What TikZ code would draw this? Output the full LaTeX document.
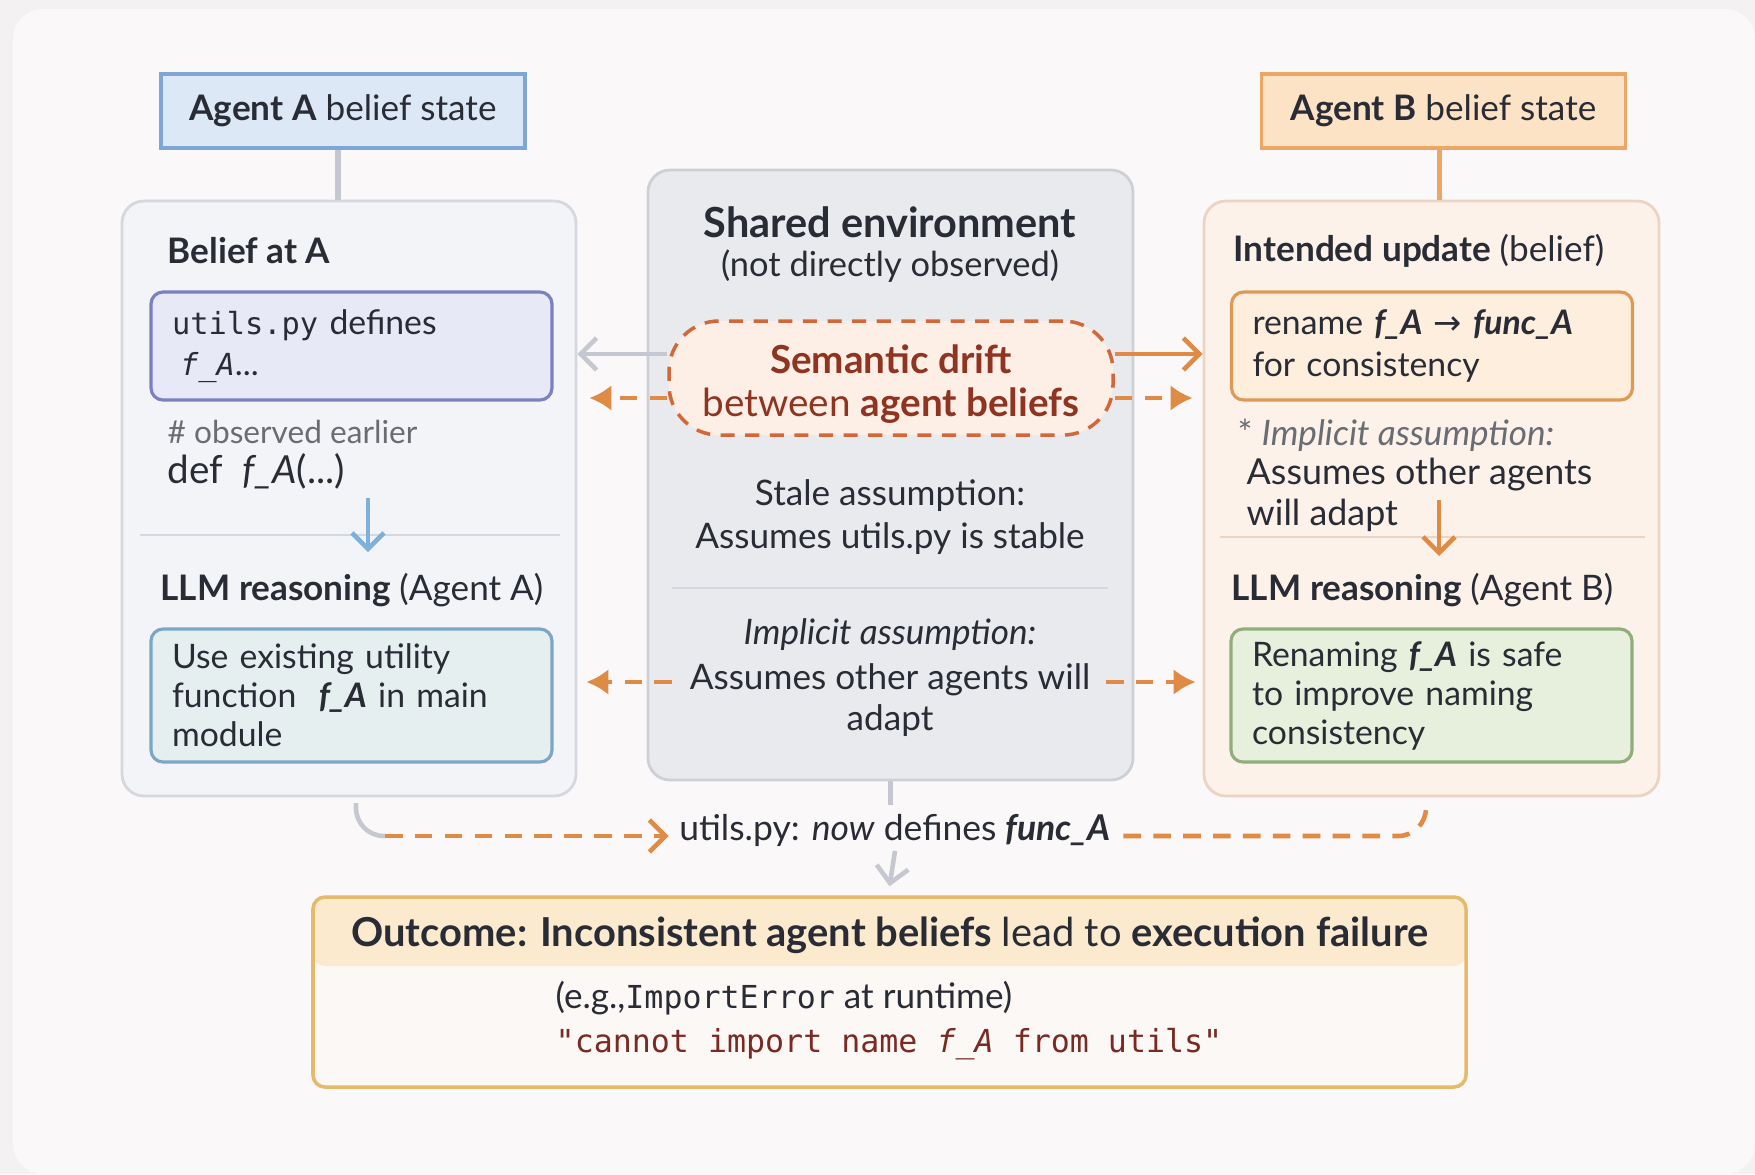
\documentclass[tikz,border=0pt]{standalone}
\usepackage{fontspec}
\setmainfont{Lato}
\setmonofont{DejaVu Sans Mono}[Scale=0.9]
\newfontfamily\arrowfont{DejaVu Sans}
\usetikzlibrary{positioning,arrows.meta,calc}

\definecolor{ink}{HTML}{2A2C35}
\definecolor{notegray}{HTML}{6A6C74}
\definecolor{bgout}{HTML}{F3F1F1}
\definecolor{bgin}{HTML}{FAF8F8}
\definecolor{bluefill}{HTML}{DCE8F5}
\definecolor{blueline}{HTML}{7EA6D8}
\definecolor{orfill}{HTML}{FCE3C6}
\definecolor{orline}{HTML}{ECA766}
\definecolor{panAfill}{HTML}{F3F4F8}
\definecolor{panAline}{HTML}{D5D8DF}
\definecolor{envfill}{HTML}{E9EAEE}
\definecolor{envline}{HTML}{CDD0D6}
\definecolor{panBfill}{HTML}{FCF2EA}
\definecolor{panBline}{HTML}{EDD3C3}
\definecolor{lavfill}{HTML}{E8E9F7}
\definecolor{lavline}{HTML}{7A80C0}
\definecolor{usefill}{HTML}{E5EFF0}
\definecolor{useline}{HTML}{7CA6C6}
\definecolor{renfill}{HTML}{FDEEDD}
\definecolor{renline}{HTML}{DE9A55}
\definecolor{grnfill}{HTML}{E7EFDD}
\definecolor{grnline}{HTML}{90AE7C}
\definecolor{driftfill}{HTML}{FDEFE6}
\definecolor{driftline}{HTML}{D2683A}
\definecolor{driftink}{HTML}{8E3420}
\definecolor{orarrow}{HTML}{DF8A45}
\definecolor{grayarrow}{HTML}{C5C8D0}
\definecolor{bluearrow}{HTML}{7DB0DA}
\definecolor{outfill}{HTML}{FCF8F5}
\definecolor{outhead}{HTML}{FBEACD}
\definecolor{outline}{HTML}{E5BA6D}
\definecolor{errink}{HTML}{7A2A22}

\tikzset{
  base/.style={inner sep=0pt, font=\fontsize{10}{12}\selectfont, text=ink},
  title/.style={base, font=\bfseries\fontsize{10}{12}\selectfont},
  txt/.style={base},
  note/.style={base, text=notegray},
  hdrA/.style={draw=blueline, fill=bluefill, line width=1pt, minimum width=3.64cm,
    minimum height=0.74cm, font=\fontsize{10}{12}\selectfont, text=ink},
  hdrB/.style={hdrA, draw=orline, fill=orfill},
  panel/.style={draw, rounded corners=0.22cm, line width=0.8pt, minimum width=4.54cm,
    minimum height=5.95cm},
  panelA/.style={panel, draw=panAline, fill=panAfill},
  panelB/.style={panel, draw=panBline, fill=panBfill, minimum width=4.55cm},
  envbox/.style={panel, draw=envline, fill=envfill, minimum width=4.85cm, minimum height=6.10cm},
  innerbox/.style={draw, rounded corners=0.12cm, line width=0.9pt, minimum width=4.01cm,
    text width=3.59cm, inner xsep=0.21cm, align=left, font=\fontsize{9.6}{11.8}\selectfont, text=ink},
  lavbox/.style={innerbox, draw=lavline, fill=lavfill, minimum height=1.08cm},
  usebox/.style={innerbox, draw=useline, fill=usefill, minimum height=1.33cm,
    font=\fontsize{9.6}{11.1}\selectfont},
  renbox/.style={innerbox, draw=renline, fill=renfill, minimum height=1.08cm},
  grnbox/.style={innerbox, draw=grnline, fill=grnfill, minimum height=1.33cm,
    font=\fontsize{9.6}{11.1}\selectfont},
  drift/.style={draw=driftline, fill=driftfill, dashed, dash pattern=on 4pt off 3pt,
    line width=1pt, rounded corners=0.5cm, minimum width=4.44cm, minimum height=1.14cm},
  drifttext/.style={inner sep=0pt, align=center, text=driftink, font=\fontsize{11}{12.2}\selectfont},
  outbox/.style={draw=outline, fill=outfill, line width=1pt, rounded corners=0.12cm,
    minimum width=11.53cm, minimum height=1.90cm,
    path picture={\fill[outhead] (path picture bounding box.north west)
      rectangle ([yshift=-0.69cm]path picture bounding box.north east);}},
  divider/.style={draw=panAline, line width=0.7pt},
  dividerB/.style={draw=panBline, line width=0.7pt},
  linkgray/.style={draw=grayarrow, line width=1.6pt},
  linkor/.style={draw=orline, line width=1.6pt},
  grayarr/.style={draw=grayarrow, line width=1.3pt, -{Straight Barb[length=1.6mm,width=3.2mm]}},
  orarr/.style={draw=orarrow, line width=1.3pt, -{Straight Barb[length=1.6mm,width=3.2mm]}},
  bluearr/.style={draw=bluearrow, line width=1.3pt, -{Straight Barb[length=1.6mm,width=3.2mm]}},
  dashor/.style={draw=orarrow, line width=1.3pt, dash pattern=on 5pt off 3.5pt},
  dasharr/.style={dashor, -{Latex[length=2.2mm,width=2.6mm]}},
}

\begin{document}
\begin{tikzpicture}
% background
\fill[bgout] (0,0) rectangle (17.55,-11.74);
\fill[bgin, rounded corners=0.3cm] (0.13,-0.09) rectangle (17.55,-11.74);
\useasboundingbox (0,0) rectangle (17.55,-11.74);

% agent headers and panels
\node[hdrA] (agentA) at (3.43,-1.11) {\textbf{Agent A} belief state};
\node[hdrB] (agentB) at (14.435,-1.11) {\textbf{Agent B} belief state};

\node[panelA] (panA) at (3.49,-4.985) {};
\node[envbox] (env) at (8.905,-4.75) {};
\node[panelB] (panB) at (14.315,-4.985) {};

\draw[linkgray] ([xshift=-0.05cm]agentA.south) -- ([xshift=-0.05cm]agentA.south |- panA.north);
\draw[linkor] ([xshift=-0.04cm]agentB.south) -- ([xshift=-0.04cm]agentB.south |- panB.north);

% left panel
\node[title, anchor=west] (beliefA) at (1.67,-2.51) {Belief at A};
\node[lavbox] (utilsA) at (3.515,-3.46) {\texttt{utils.py} defines\\ \hspace{0.08cm}\texttt{\textit{f\_A}}...};
\node[note, anchor=west, font=\fontsize{9}{11}\selectfont] (obsA) at (1.67,-4.32) {\# observed earlier};
\node[txt, anchor=west, font=\fontsize{11}{13}\selectfont] (defA) at (1.67,-4.71) {def\ \ \textit{f\_A}(...)};
\draw[divider] (1.40,-5.35) -- (5.60,-5.35);
\coordinate (downA) at (3.68,-4.98);
\draw[bluearr] (downA) -- ++(0,-0.54);
\node[title, anchor=west] (llmA) at (1.60,-5.90) {LLM reasoning \textmd{(Agent A)}};
\node[usebox] (useA) at (3.515,-6.955) {Use existing utility\\ function \ \textbf{\textit{f\_A}} in main\\ module};

% shared environment
\node[title, font=\bfseries\fontsize{11.8}{14}\selectfont] (envT) at (8.90,-2.22) {Shared environment};
\node[txt, font=\fontsize{9.8}{12}\selectfont] (envS) at (8.90,-2.66) {(not directly observed)};
\node[drift] (drift) at (8.91,-3.78) {};
\node[drifttext] (driftT) at ([yshift=-0.06cm]drift.center) {\textbf{Semantic drift}\\ between \textbf{agent beliefs}};
\node[txt, align=center, font=\fontsize{10}{12}\selectfont] (stale) at (8.90,-5.17) {Stale assumption:\\ Assumes utils.py is stable};
\draw[divider] (6.72,-5.88) -- (11.08,-5.88);
\node[txt, font=\itshape\fontsize{10}{12}\selectfont] (implE) at (8.90,-6.35) {Implicit assumption:};
\node[txt, align=center, font=\fontsize{10}{11.6}\selectfont] (adaptE) at (8.90,-7.00) {Assumes other agents will\\ adapt};

\draw[grayarr] ([yshift=0.24cm]drift.west) -- ([yshift=0.24cm]drift.west -| panA.east);
\draw[dasharr, shorten >=0.12cm] ([yshift=-0.2cm]drift.west) -- ([yshift=-0.2cm]drift.west -| panA.east);
\draw[orarr] ([yshift=0.24cm]drift.east) -- ([yshift=0.24cm]drift.east -| panB.west);
\draw[dasharr, shorten >=0.1cm] ([yshift=-0.2cm]drift.east) -- ([yshift=-0.2cm]drift.east -| panB.west);

\coordinate (willL) at (6.72,-6.82);
\coordinate (willR) at (11.06,-6.82);
\draw[dasharr, shorten >=0.09cm] (willL) -- (willL -| panA.east);
\draw[dasharr, shorten >=0.07cm] (willR) -- (willR -| panB.west);

% right panel
\node[title, anchor=west] (intB) at (12.33,-2.51) {Intended update \textmd{(belief)}};
\node[renbox] (renB) at (14.32,-3.46) {rename \textbf{\textit{f\_A}} {\arrowfont →} \textbf{\textit{func\_A}}\\ for consistency};
\node[note, anchor=west] (implB) at (12.37,-4.35) {* \textit{Implicit assumption:}};
\node[txt, anchor=west, align=left, font=\fontsize{10.2}{11.6}\selectfont] (adaptB) at (12.46,-4.95) {Assumes other agents\\ will adapt};
\draw[dividerB] (12.20,-5.37) -- (16.45,-5.37);
\coordinate (downB) at (14.39,-5.00);
\draw[orarr] (downB) -- ++(0,-0.56);
\node[title, anchor=west] (llmB) at (12.31,-5.90) {LLM reasoning \textmd{(Agent B)}};
\node[grnbox] (safeB) at (14.315,-6.955) {Renaming \textbf{\textit{f\_A}} is safe\\ to improve naming\\ consistency};

% what happens in utils.py
\draw[linkgray] (env.south) -- ++(0,-0.24);
\node[txt, font=\fontsize{10.1}{12}\selectfont] (nowU) at (8.95,-8.30) {utils.py: \textit{now} defines \textbf{\textit{func\_A}}};
\coordinate (curveA) at (3.56,-8.03);
\coordinate (dashA) at (3.85,-8.36);
\coordinate (curveB) at (14.26,-8.03);
\draw[linkgray, line width=1.3pt, rounded corners=0.28cm] (curveA) |- (dashA);
\draw[dashor, -{Straight Barb[length=1.6mm,width=3.2mm]}] (dashA) -- ([xshift=-0.1cm]dashA -| nowU.west);
\draw[dashor, rounded corners=0.28cm] ([xshift=0.12cm]nowU.east |- dashA) -| (curveB);

% outcome
\node[outbox] (outcome) at (8.895,-9.92) {};
\draw[grayarr] ([yshift=-0.04cm]nowU.south) -- ([yshift=0.09cm]outcome.north);
\node[title, font=\bfseries\fontsize{11.35}{13}\selectfont] (outT) at (8.90,-9.35) {Outcome: Inconsistent agent beliefs \textmd{lead to} execution failure};
\node[txt, anchor=west, font=\fontsize{10}{12}\selectfont] (egO) at (5.55,-9.98) {(e.g.,\texttt{ImportError} at runtime)};
\node[txt, anchor=west, text=errink, font=\ttfamily\fontsize{10}{12}\selectfont] (errO) at (5.55,-10.44) {"cannot import name \textit{f\_A} from utils"};
\end{tikzpicture}
\end{document}
